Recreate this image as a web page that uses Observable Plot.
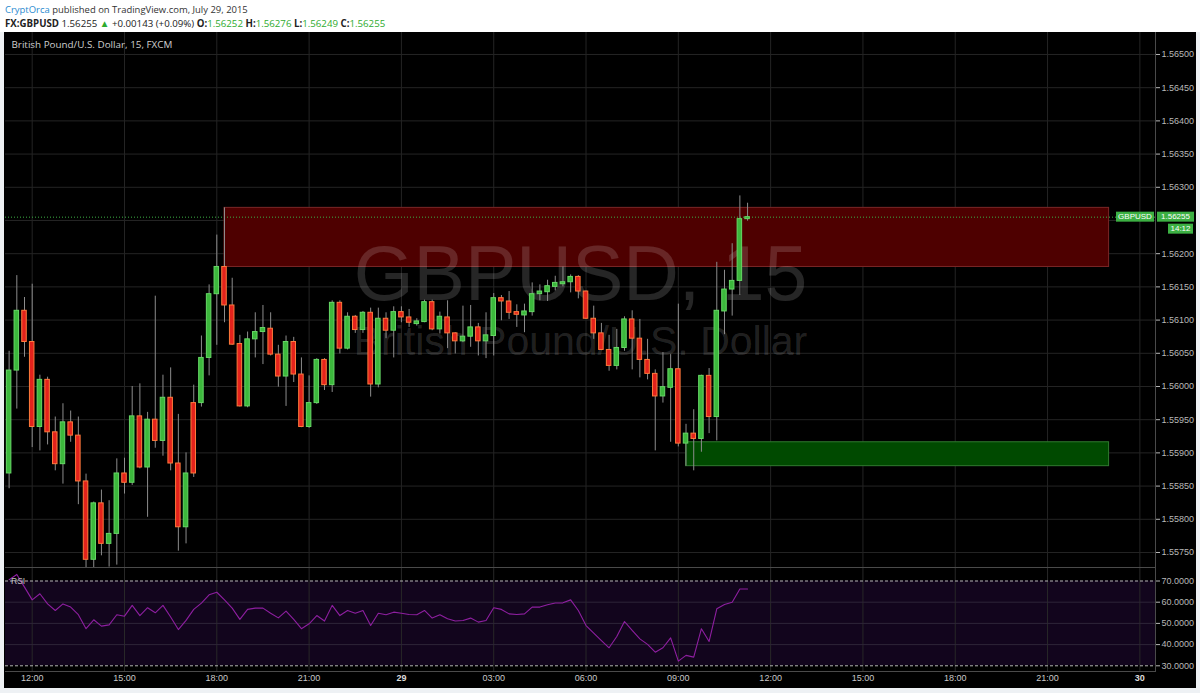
<!DOCTYPE html>
<html><head><meta charset="utf-8">
<script src="https://cdn.jsdelivr.net/npm/d3@7"></script>
<script src="https://cdn.jsdelivr.net/npm/@observablehq/plot@0.6"></script>
<style>
body{margin:0;background:#eef1f4;}
#wrap{position:relative;width:1200px;height:693px;overflow:hidden;background:#eef1f4;}
#panel{position:absolute;left:4px;top:32px;width:1192px;height:656px;background:#000;}
.abs{position:absolute;left:0;}
svg{display:block;}
</style></head><body>
<div id="wrap">
  <svg id="head" class="abs" style="top:0" width="1200" height="32"></svg>
  <div id="panel"></div>
  <div id="main" class="abs" style="top:32px"></div>
  <div id="rsi" class="abs" style="top:567px"></div>
  <svg id="over" class="abs" style="top:0;pointer-events:none" width="1200" height="693"></svg>
</div>
<script>
// ---------- data ----------
const symbol = "FX:GBPUSD";
const pairName = "British Pound/U.S. Dollar, 15, FXCM";
const author = "CryptOrca";
const published = " published on TradingView.com, July 29, 2015";
const changeText = "+0.00143 (+0.09%)";
const countdown = "14:12";
const watermark1 = "GBPUSD, 15";
const watermark2 = "British Pound/U.S. Dollar";

const opens = [1.55869,1.56024,1.56114,1.56067,1.55939,1.56010,1.55931,1.55883,1.55946,1.55926,
1.55857,1.55739,1.55824,1.55763,1.55778,1.55869,1.55855,1.55955,1.55878,1.55950,
1.55918,1.55983,1.55884,1.55788,1.55975,1.55975,1.56043,1.56139,1.56180,1.56122,
1.56064,1.55970,1.56071,1.56082,1.56087,1.56048,1.56015,1.56067,1.56018,1.55939,
1.55975,1.56040,1.56002,1.56126,1.56057,1.56105,1.56085,1.56111,1.56003,1.56102,
1.56084,1.56112,1.56104,1.56094,1.56097,1.56127,1.56086,1.56104,1.56080,1.56068,
1.56075,1.56089,1.56068,1.56076,1.56133,1.56128,1.56112,1.56107,1.56112,1.56139,
1.56142,1.56150,1.56154,1.56157,1.56165,1.56143,1.56102,1.56080,1.56055,1.56031,
1.56058,1.56101,1.56072,1.56040,1.56019,1.55985,1.55998,1.56026,1.55914,1.55929,
1.55921,1.56016,1.55954,1.56113,1.56146,1.56159,1.56252];
const highs = [1.56053,1.56167,1.56134,1.56154,1.56017,1.56014,1.55954,1.55974,1.55963,1.55954,
1.55868,1.55826,1.55844,1.55828,1.55891,1.55892,1.56000,1.56004,1.55961,1.56136,
1.56017,1.56028,1.55958,1.55900,1.56002,1.56076,1.56153,1.56228,1.56269,1.56163,
1.56077,1.56082,1.56111,1.56122,1.56111,1.56062,1.56076,1.56074,1.56043,1.56016,
1.56042,1.56042,1.56129,1.56129,1.56111,1.56107,1.56113,1.56118,1.56118,1.56111,
1.56120,1.56120,1.56116,1.56102,1.56130,1.56130,1.56112,1.56129,1.56081,1.56121,
1.56122,1.56095,1.56111,1.56140,1.56137,1.56143,1.56123,1.56124,1.56156,1.56153,
1.56160,1.56166,1.56180,1.56168,1.56167,1.56144,1.56121,1.56095,1.56077,1.56086,
1.56105,1.56114,1.56101,1.56071,1.56025,1.56051,1.56048,1.56124,1.55943,1.55965,
1.56017,1.56027,1.56187,1.56175,1.56215,1.56287,1.56276];
const lows = [1.55846,1.55966,1.56044,1.55908,1.55903,1.55912,1.55873,1.55853,1.55916,1.55822,
1.55727,1.55727,1.55745,1.55728,1.55731,1.55838,1.55851,1.55876,1.55803,1.55907,
1.55895,1.55873,1.55752,1.55763,1.55863,1.55969,1.56016,1.56062,1.56096,1.56062,
1.55969,1.55968,1.56043,1.56033,1.56046,1.55999,1.55970,1.56006,1.55938,1.55937,
1.55973,1.55994,1.55991,1.56049,1.56055,1.56080,1.56080,1.55984,1.55998,1.56072,
1.56043,1.56096,1.56089,1.56091,1.56096,1.56084,1.56079,1.56057,1.56049,1.56066,
1.56059,1.56046,1.56042,1.56046,1.56099,1.56101,1.56089,1.56081,1.56106,1.56129,
1.56128,1.56144,1.56150,1.56141,1.56132,1.56101,1.56071,1.56054,1.56023,1.56025,
1.56053,1.56025,1.56013,1.56010,1.55903,1.55975,1.55916,1.55909,1.55880,1.55873,
1.55901,1.55929,1.55918,1.56078,1.56106,1.56137,1.56249];
const closes = [1.56024,1.56114,1.56067,1.55939,1.56010,1.55931,1.55883,1.55946,1.55926,1.55857,
1.55739,1.55824,1.55763,1.55778,1.55869,1.55855,1.55955,1.55878,1.55950,1.55918,
1.55983,1.55884,1.55788,1.55869,1.55869,1.56043,1.56139,1.56180,1.56122,1.56063,
1.55970,1.56071,1.56082,1.56088,1.56048,1.56015,1.56067,1.56018,1.55939,1.55975,
1.56040,1.56002,1.56126,1.56057,1.56105,1.56085,1.56111,1.56003,1.56102,1.56084,
1.56112,1.56104,1.56096,1.56098,1.56127,1.56086,1.56105,1.56080,1.56068,1.56075,
1.56089,1.56068,1.56077,1.56133,1.56128,1.56111,1.56108,1.56113,1.56139,1.56143,
1.56151,1.56156,1.56157,1.56165,1.56143,1.56102,1.56080,1.56055,1.56031,1.56058,
1.56101,1.56072,1.56040,1.56019,1.55985,1.55999,1.56026,1.55914,1.55929,1.55921,
1.56016,1.55954,1.56114,1.56146,1.56159,1.56252,1.56255];
const rsiValues = [70.6,73.1,67.1,61.1,64.0,59.2,56.1,59.2,57.7,54.1,
47.5,51.7,48.7,49.3,54.1,53.4,58.5,53.7,57.4,55.0,
58.5,53.0,47.1,51.4,56.6,59.6,63.5,64.7,61.1,57.2,
51.9,56.6,57.2,57.2,54.8,52.6,55.8,51.9,47.5,49.8,
53.7,51.1,58.5,53.7,56.1,54.8,56.1,49.0,54.8,54.1,
55.3,54.8,54.2,54.1,56.1,52.5,54.1,52.2,51.1,51.4,
52.5,50.6,51.4,57.4,56.6,54.5,54.2,54.5,57.7,57.7,
58.8,59.6,59.7,61.1,56.1,49.0,45.4,41.9,38.5,43.8,
50.9,46.7,42.7,40.1,36.4,38.5,43.2,32.2,34.9,34.1,
47.5,41.5,56.9,58.9,60.0,66.2,66.2];

const firstBar = Date.UTC(2015, 6, 28, 11, 15);   // 15-minute bars
const barMinutes = 15;

const priceTicks = [1.5575,1.5580,1.5585,1.5590,1.5595,1.5600,1.5605,1.5610,1.5615,1.5620,1.5625,1.5630,1.5635,1.5640,1.5645,1.5650];
// the 1.56250 label sits under the last-price tag, as in the original
const priceLabelTicks = [1.5575,1.5580,1.5585,1.5590,1.5595,1.5600,1.5605,1.5610,1.5615,1.5620,1.5630,1.5635,1.5640,1.5645,1.5650];
const rsiTicks = [30,40,50,60,70];
const rsiGrid = [40,50,60];
const rsiLevels = [30,70];

const timeTickDates = ["2015-07-28T12:00Z","2015-07-28T15:00Z","2015-07-28T18:00Z","2015-07-28T21:00Z","2015-07-29T00:00Z","2015-07-29T03:00Z","2015-07-29T06:00Z","2015-07-29T09:00Z","2015-07-29T12:00Z","2015-07-29T15:00Z","2015-07-29T18:00Z","2015-07-29T21:00Z","2015-07-30T00:00Z"];
const timeTickLabels = ["12:00","15:00","18:00","21:00","29","03:00","06:00","09:00","12:00","15:00","18:00","21:00","30"];

const zoneStarts = ["2015-07-28T18:15Z","2015-07-29T09:15Z"];
const zoneEnds   = ["2015-07-29T23:00Z","2015-07-29T23:00Z"];
const zoneLows   = [1.56180, 1.55880];
const zoneHighs  = [1.56269, 1.55916];
const zoneFills  = ["#4e0000","#004a00"];
const zoneStrokes= ["#7a2626","#2f7a2f"];

// ---------- derived tables ----------
const candles = opens.map((o, i) => ({
  t: new Date(firstBar + i * barMinutes * 60000),
  o, h: highs[i], l: lows[i], c: closes[i], r: rsiValues[i]
}));
const ticks = timeTickDates.map((d, i) => ({t: new Date(d), label: timeTickLabels[i], day: !timeTickLabels[i].includes(":")}));
const zones = zoneStarts.map((s, i) => ({start: new Date(s), end: new Date(zoneEnds[i]), low: zoneLows[i], high: zoneHighs[i], fill: zoneFills[i], stroke: zoneStrokes[i]}));
const last = candles[candles.length - 1];
const xDomain = [new Date(Date.UTC(2015,6,28,11,7,56)), new Date(Date.UTC(2015,6,30,0,30,30))];
const halfBody = 4.4 * 60000;
const up = d => d.c >= d.o;

const font = "'Liberation Sans', Arial, sans-serif";
const uiFont = "'Liberation Sans Narrow', 'Open Sans', Roboto, sans-serif";
const common = {
  width: 1200, marginLeft: 5, marginRight: 45,
  style: {background: "transparent", color: "#b8b8b8", fontSize: "9px", fontFamily: font, overflow: "visible"},
  x: {type: "utc", domain: xDomain, axis: null},
  color: {type: "identity"}
};

// ---------- main price chart ----------
const main = Plot.plot({
  ...common,
  height: 535, marginTop: 0, marginBottom: 0,
  y: {domain: [1.557274, 1.565331], axis: "right", ticks: priceLabelTicks, tickFormat: d => d.toFixed(5), tickSize: 4, tickPadding: 2, label: null},
  marks: [
    Plot.ruleX(ticks, {x: "t", stroke: "#242424"}),
    Plot.ruleY(priceTicks, {stroke: "#242424"}),
    Plot.rect(zones, {x1: "start", x2: "end", y1: "low", y2: "high", fill: "fill", stroke: "stroke"}),
    Plot.text([watermark1], {text: d => d, frameAnchor: "middle", dy: -25, fontSize: 77, fill: "#ffffff", fillOpacity: 0.15, fontFamily: font}),
    Plot.text([watermark2], {text: d => d, frameAnchor: "middle", dy: 42, fontSize: 41, fill: "#ffffff", fillOpacity: 0.15, fontFamily: font}),
    Plot.ruleY([last.c], {stroke: "#3cb043", strokeDasharray: "1,2"}),
    Plot.ruleX(candles, {x: "t", y1: "l", y2: "h", stroke: "#8c8c8c", clip: true}),
    Plot.rect(candles, {
      x1: d => new Date(+d.t - halfBody), x2: d => new Date(+d.t + halfBody),
      y1: "o", y2: "c",
      fill: d => up(d) ? "#3cb83c" : "#e3221c",
      stroke: d => up(d) ? "#66d866" : "#ff7a3c",
      clip: true
    })
  ]
});
document.getElementById("main").appendChild(main);

// price tag boxes placed with the library's y scale
{
  const yy = main.scale("y").apply(last.c);
  const g = d3.select(main).append("g").attr("font-family", font).attr("font-size", 8).attr("fill", "#fff");
  const box = (x, y, w, h, txt) => {
    g.append("rect").attr("x", x).attr("y", y).attr("width", w).attr("height", h).attr("fill", "#3cb043");
    g.append("text").attr("x", x + w / 2).attr("y", y + h / 2).attr("dy", "0.35em").attr("text-anchor", "middle").text(txt);
  };
  box(1116, yy - 5, 38, 10, "GBPUSD");
  box(1157, yy - 5, 37, 10, last.c.toFixed(5));
  box(1168, yy + 7, 25, 10, countdown);
}

// ---------- RSI panel ----------
const rsiPlot = Plot.plot({
  ...common,
  height: 121, marginTop: 0, marginBottom: 17,
  y: {domain: [27.31, 76.37], axis: "right", ticks: rsiTicks, tickFormat: d => d.toFixed(4), tickSize: 4, tickPadding: 2, label: null},
  marks: [
    Plot.rect([{lo: rsiLevels[0], hi: rsiLevels[1]}], {y1: "lo", y2: "hi", fill: "#12051d"}),
    Plot.ruleX(ticks, {x: "t", stroke: "#282828"}),
    Plot.ruleY(rsiGrid, {stroke: "#2e2538"}),
    Plot.ruleY(rsiLevels, {stroke: "#b4b4b4", strokeDasharray: "3,2"}),
    Plot.line(candles, {x: "t", y: "r", stroke: "#8e1fa0", strokeWidth: 1.1}),
    Plot.text(ticks.filter(d => !d.day), {x: "t", text: "label", frameAnchor: "bottom", dy: 9, fill: "#c8c8c8", fontSize: 9}),
    Plot.text(ticks.filter(d => d.day), {x: "t", text: "label", frameAnchor: "bottom", dy: 9, fill: "#dcdcdc", fontSize: 9, fontWeight: "bold"})
  ]
});
document.getElementById("rsi").appendChild(rsiPlot);

// ---------- header, title and panel separators ----------
const fit = (sel, target) => {
  const w = sel.node().getComputedTextLength();
  if (w > 0) sel.attr("font-size", +sel.attr("font-size") * target / w);
};
const head = d3.select("#head").attr("font-family", uiFont);
head.append("rect").attr("width", 1200).attr("height", 32).attr("fill", "#fff");
const t1 = head.append("text").attr("x", 5).attr("y", 12.5).attr("font-size", 11);
t1.append("tspan").attr("fill", "#2a8bd0").text(author);
t1.append("tspan").attr("fill", "#333").text(published);
fit(t1, 243);
const t2 = head.append("text").attr("x", 5).attr("y", 27).attr("font-size", 11).attr("fill", "#222");
const G = "#2eab2e";
t2.append("tspan").attr("font-weight", "bold").text(symbol);
t2.append("tspan").text("\u00a0" + last.c.toFixed(5) + "\u00a0");
t2.append("tspan").attr("fill", G).text("\u25B2");
t2.append("tspan").text("\u00a0" + changeText + "\u00a0");
[["O:", last.o], ["H:", last.h], ["L:", last.l], ["C:", last.c]].forEach(([k, v], i) => {
  t2.append("tspan").attr("font-weight", "bold").text((i ? "\u00a0" : "") + k);
  t2.append("tspan").attr("fill", G).text(v.toFixed(5));
});
fit(t2, 381);

const over = d3.select("#over");
const tt = over.append("text").attr("x", 11.5).attr("y", 48).attr("font-family", uiFont).attr("font-size", 10.5)
  .attr("fill", "#cfcfcf").text(pairName);
fit(tt, 161);
over.append("text").attr("x", 11).attr("y", 584).attr("font-family", font).attr("font-size", 8.5).attr("fill", "#c0c0c0").text("RSI");
const sep = "#4a4a4a";
over.append("line").attr("x1", 5).attr("x2", 1155).attr("y1", 567.5).attr("y2", 567.5).attr("stroke", sep);
over.append("line").attr("x1", 5).attr("x2", 1155).attr("y1", 671.5).attr("y2", 671.5).attr("stroke", sep);
over.append("line").attr("x1", 1155.5).attr("x2", 1155.5).attr("y1", 32).attr("y2", 672).attr("stroke", sep);
</script>
</body></html>
